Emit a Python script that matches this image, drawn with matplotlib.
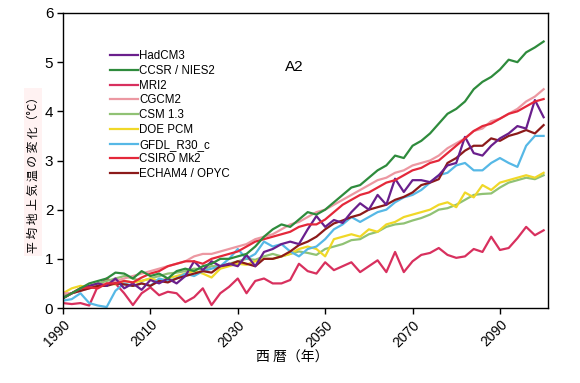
import matplotlib
matplotlib.use("Agg")
import matplotlib.pyplot as plt
import numpy as np

plt.rcParams['font.family'] = ['Liberation Sans', 'Noto Sans CJK JP', 'DejaVu Sans']

years = list(range(1990, 2101, 2))

hadcm3 = [0.2, 0.3, 0.4, 0.45, 0.5, 0.45, 0.6, 0.4, 0.5, 0.37, 0.57, 0.5, 0.6, 0.5, 0.65, 0.95,
          0.77, 0.95, 0.85, 0.9, 0.85, 1.08, 0.85, 1.14, 1.2, 1.3, 1.35, 1.3, 1.6, 1.87, 1.65, 1.79,
          1.73, 1.95, 2.13, 2.0, 2.3, 2.1, 2.63, 2.36, 2.6, 2.6, 2.56, 2.7, 2.9, 2.95, 3.48, 3.15,
          3.1, 3.3, 3.45, 3.55, 3.7, 3.65, 4.23, 3.88]
ccsr = [0.2, 0.3, 0.4, 0.5, 0.55, 0.6, 0.72, 0.7, 0.6, 0.75, 0.65, 0.7, 0.6, 0.75, 0.8, 0.75,
        0.85, 0.9, 1.0, 1.0, 1.05, 1.1, 1.25, 1.45, 1.6, 1.7, 1.65, 1.8, 1.95, 1.9, 2.0, 2.15,
        2.3, 2.45, 2.5, 2.65, 2.8, 2.9, 3.1, 3.05, 3.3, 3.4, 3.55, 3.75, 3.95, 4.05, 4.2, 4.45,
        4.6, 4.7, 4.85, 5.05, 5.0, 5.2, 5.3, 5.42]
mri2 = [0.1, 0.08, 0.1, 0.05, 0.45, 0.6, 0.5, 0.3, 0.06, 0.3, 0.42, 0.26, 0.33, 0.3, 0.12, 0.22,
        0.4, 0.06, 0.3, 0.43, 0.6, 0.3, 0.55, 0.6, 0.5, 0.5, 0.57, 0.9, 0.75, 0.7, 0.93, 0.77,
        0.85, 0.93, 0.73, 0.85, 0.97, 0.73, 1.14, 0.73, 0.95, 1.08, 1.12, 1.22, 1.08, 1.02, 1.05, 1.2,
        1.14, 1.45, 1.18, 1.22, 1.42, 1.65, 1.48, 1.58]
cgcm2 = [0.3, 0.3, 0.35, 0.4, 0.45, 0.5, 0.55, 0.6, 0.65, 0.7, 0.75, 0.8, 0.85, 0.9, 0.95, 1.05,
         1.1, 1.1, 1.15, 1.2, 1.25, 1.3, 1.4, 1.45, 1.5, 1.6, 1.7, 1.75, 1.85, 1.95, 2.0, 2.1,
         2.2, 2.3, 2.4, 2.5, 2.6, 2.65, 2.75, 2.8, 2.9, 2.95, 3.0, 3.1, 3.25, 3.35, 3.45, 3.6,
         3.65, 3.8, 3.85, 3.95, 4.05, 4.2, 4.3, 4.45]
csm13 = [0.25, 0.3, 0.35, 0.45, 0.5, 0.55, 0.6, 0.65, 0.6, 0.55, 0.6, 0.65, 0.7, 0.72, 0.75, 0.8,
         0.78, 0.85, 0.85, 0.9, 0.95, 1.0, 0.98, 1.05, 1.1, 1.05, 1.1, 1.15, 1.12, 1.08, 1.2, 1.25,
         1.3, 1.38, 1.4, 1.5, 1.55, 1.65, 1.7, 1.72, 1.78, 1.83, 1.9, 2.0, 2.03, 2.1, 2.2, 2.3,
         2.32, 2.33, 2.45, 2.55, 2.6, 2.65, 2.62, 2.7]
doepcm = [0.3, 0.4, 0.45, 0.42, 0.45, 0.5, 0.48, 0.55, 0.52, 0.55, 0.6, 0.55, 0.6, 0.65, 0.7, 0.75,
          0.7, 0.62, 0.8, 0.85, 0.9, 0.88, 0.95, 1.0, 1.0, 1.05, 1.1, 1.2, 1.25, 1.2, 1.05, 1.4,
          1.45, 1.5, 1.45, 1.6, 1.55, 1.7, 1.75, 1.85, 1.9, 1.95, 2.0, 2.1, 2.15, 2.05, 2.35, 2.25,
          2.5, 2.4, 2.55, 2.6, 2.65, 2.7, 2.65, 2.75]
gfdl = [0.15, 0.18, 0.3, 0.1, 0.05, 0.02, 0.35, 0.5, 0.45, 0.5, 0.45, 0.6, 0.55, 0.6, 0.7, 0.65,
        0.75, 0.8, 0.85, 1.0, 1.2, 1.0, 1.1, 1.35, 1.25, 1.3, 1.15, 1.05, 1.2, 1.25, 1.4, 1.6,
        1.7, 1.85, 1.75, 1.85, 1.95, 2.0, 2.15, 2.25, 2.3, 2.4, 2.55, 2.7, 2.75, 2.9, 2.95, 2.8,
        2.8, 2.95, 3.05, 2.95, 2.87, 3.3, 3.5, 3.5]
csiro = [0.2, 0.3, 0.4, 0.42, 0.4, 0.5, 0.5, 0.55, 0.52, 0.62, 0.7, 0.75, 0.85, 0.9, 0.95, 0.95,
         0.9, 1.0, 1.05, 1.1, 1.15, 1.25, 1.35, 1.4, 1.45, 1.5, 1.55, 1.65, 1.7, 1.7, 1.8, 1.95,
         2.1, 2.2, 2.3, 2.35, 2.45, 2.55, 2.6, 2.7, 2.8, 2.85, 2.95, 3.0, 3.15, 3.3, 3.45, 3.6,
         3.7, 3.75, 3.85, 3.95, 4.0, 4.1, 4.2, 4.25]
echam4 = [0.2, 0.3, 0.35, 0.4, 0.45, 0.45, 0.5, 0.48, 0.45, 0.5, 0.45, 0.55, 0.52, 0.6, 0.65, 0.7,
          0.75, 0.72, 0.85, 0.88, 0.95, 0.9, 0.85, 1.0, 1.0, 1.05, 1.15, 1.28, 1.35, 1.45, 1.6, 1.72,
          1.78, 1.85, 1.9, 2.0, 2.05, 2.1, 2.2, 2.26, 2.35, 2.5, 2.55, 2.62, 2.95, 3.05, 3.2, 3.3,
          3.3, 3.45, 3.4, 3.5, 3.55, 3.62, 3.55, 3.72]

labels = ["HadCM3", "CCSR / NIES2", "MRI2", "CGCM2", "CSM 1.3", "DOE PCM",
          "GFDL_R30_c", "CSIRO Mk2", "ECHAM4 / OPYC"]
series = [hadcm3, ccsr, mri2, cgcm2, csm13, doepcm, gfdl, csiro, echam4]
colors = ["#6a1f8c", "#2e8b3c", "#d8305e", "#ec98a2", "#90c274", "#f0d828",
          "#56b8e6", "#e4283a", "#8c1a1a"]

xticks = [1990, 2010, 2030, 2050, 2070, 2090]
yticks = [0, 1, 2, 3, 4, 5, 6]

fig = plt.figure(figsize=(5.8, 3.83), dpi=100)
ax = fig.add_axes([63/580, 1-308/383, (548-63)/580, (308-13)/383])

order = [2, 4, 5, 6, 3, 8, 0, 7, 1]
for i in order:
    ax.plot(years, series[i], color=colors[i], lw=1.6, label=labels[i])

ax.set_xlim(1990, 2101)
ax.set_ylim(0, 6)
ax.set_xticks(xticks)
ax.set_xticklabels([str(t) for t in xticks], rotation=45, ha='right', rotation_mode='anchor', fontsize=10)
ax.set_yticks(yticks)
ax.set_yticklabels([str(t) for t in yticks], fontsize=11)
ax.tick_params(direction='out', length=4, width=1, pad=3)
for s in ax.spines.values():
    s.set_linewidth(1.0)

handles, labs = ax.get_legend_handles_labels()
hmap = dict(zip(labs, handles))
leg = ax.legend([hmap[l] for l in labels], labels, loc='upper left',
                bbox_to_anchor=(0.088, 0.89), frameon=False, fontsize=8.3,
                handlelength=2.4, handletextpad=0.1, labelspacing=0.24, borderaxespad=0)

ax.text(2043, 4.9, "A2", fontsize=11, ha='center', va='center')

fig.text(33/580, 1-172/383, "平 均 地 上 気 温 の 変 化（°C）", rotation=90, ha='center', va='center',
         fontsize=8.5, family=['Noto Sans CJK JP', 'DejaVu Sans'],
         bbox=dict(facecolor='#fff2f2', edgecolor='none', pad=2))
fig.text(292/580, 1-358/383, "西 暦（年）", ha='center', va='center', fontsize=10,
         family=['Noto Sans CJK JP', 'DejaVu Sans'])

fig.savefig("out.png", dpi=100)
